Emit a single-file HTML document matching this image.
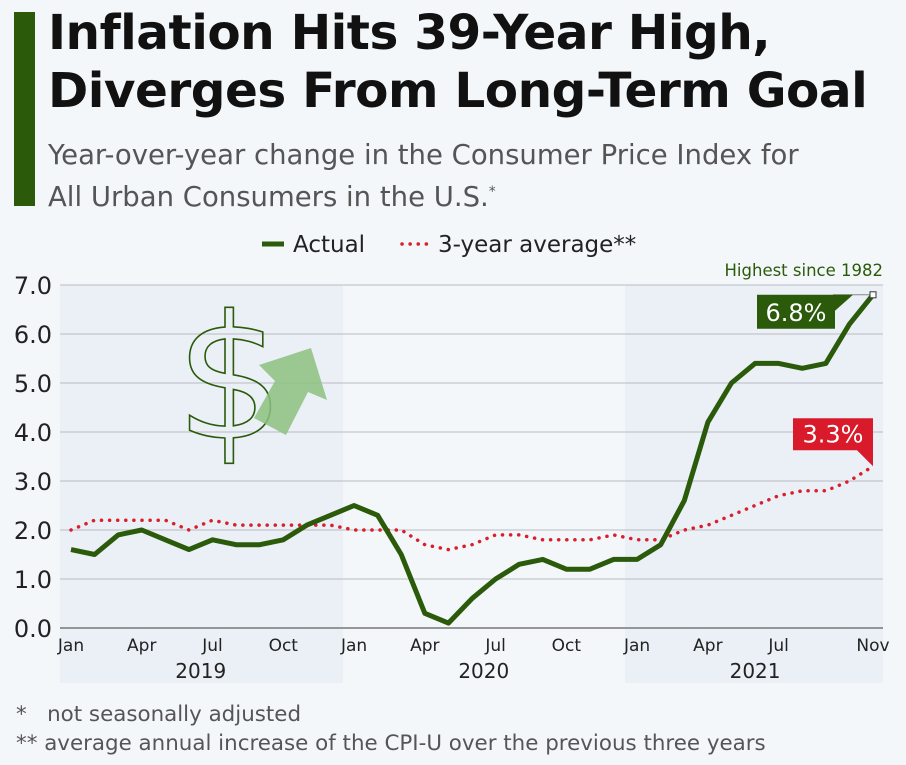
<!DOCTYPE html>
<html><head><meta charset="utf-8"><style>
body{margin:0;background:#f4f7fa;font-family:"Liberation Sans","DejaVu Sans",sans-serif}
#wrap{position:relative;width:906px;height:765px;overflow:hidden;background:#f4f7fa}
.t{position:absolute;white-space:nowrap}
</style></head><body>
<div id="wrap">
<div class="t" style="left:14px;top:12px;width:21px;height:194px;background:#2a5a0a"></div>
<div class="t" style="left:48px;top:4px;font-size:48.5px;font-weight:bold;line-height:58px;color:#111;font-family:'DejaVu Sans',sans-serif;letter-spacing:-0.5px">Inflation Hits 39-Year High,<br>Diverges From Long-Term Goal</div>
<div class="t" style="left:48px;top:137px;font-size:27.5px;line-height:37px;color:#555;font-family:'DejaVu Sans',sans-serif">Year-over-year change in the Consumer Price Index for<br>All Urban Consumers in the U.S.<sup style="font-size:14px">*</sup></div>
<svg id="chart" width="906" height="765" style="position:absolute;left:0;top:0"></svg>
<div class="t" style="left:16px;top:702px;font-size:21.4px;color:#555;font-family:'DejaVu Sans',sans-serif">*&nbsp;&nbsp; not seasonally adjusted</div>
<div class="t" style="left:16px;top:731px;font-size:21.4px;color:#555;font-family:'DejaVu Sans',sans-serif">** average annual increase of the CPI-U over the previous three years</div>
</div>
<script>
const actual=[1.6,1.5,1.9,2.0,1.8,1.6,1.8,1.7,1.7,1.8,2.1,2.3,2.5,2.3,1.5,0.3,0.1,0.6,1.0,1.3,1.4,1.2,1.2,1.4,1.4,1.7,2.6,4.2,5.0,5.4,5.4,5.3,5.4,6.2,6.8];
const avg3=[2.0,2.2,2.2,2.2,2.2,2.0,2.2,2.1,2.1,2.1,2.1,2.1,2.0,2.0,2.0,1.7,1.6,1.7,1.9,1.9,1.8,1.8,1.8,1.9,1.8,1.8,2.0,2.1,2.3,2.5,2.7,2.8,2.8,3.0,3.3];
const yTicks=[0,1,2,3,4,5,6,7];
const monthLabels=[[0,"Jan"],[3,"Apr"],[6,"Jul"],[9,"Oct"],[12,"Jan"],[15,"Apr"],[18,"Jul"],[21,"Oct"],[24,"Jan"],[27,"Apr"],[30,"Jul"],[34,"Nov"]];
const years=[[2019,0,11],[2020,12,23],[2021,24,34]];
const NS="http://www.w3.org/2000/svg",svg=document.getElementById('chart');
const X=i=>71+i*(873-71)/34, Y=v=>628-v*49;
function mk(t,a,p){const e=document.createElementNS(NS,t);for(const k in a)e.setAttribute(k,a[k]);(p||svg).appendChild(e);return e;}
let e;
e=mk('rect',{x:60,y:285,width:283,height:398,fill:'#ebf0f7'});

e=mk('rect',{x:625,y:285,width:258,height:398,fill:'#ebf0f7'});

yTicks.forEach(v=>{
 e=mk('line',{x1:60,x2:883,y1:Y(v),y2:Y(v),stroke:v===0?'#777':'#c4c7cc','stroke-width':v===0?1.5:1.2});
 
 e=mk('text',{x:52,y:Y(v)+9,'text-anchor':'end','font-size':24,fill:'#222','font-family':'DejaVu Sans,sans-serif'});e.textContent=v.toFixed(1);
 
});
monthLabels.forEach(([i,l])=>{
 e=mk('text',{x:X(i),y:651,'text-anchor':'middle','font-size':17,fill:'#222','font-family':'DejaVu Sans,sans-serif'});e.textContent=l;
 
});
years.forEach(([y,a,b])=>{
 e=mk('text',{x:(X(a)+X(b))/2,y:678,'text-anchor':'middle','font-size':20,fill:'#222','font-family':'DejaVu Sans,sans-serif'});e.textContent=y;
 
});
e=mk('text',{x:230,y:438,'text-anchor':'middle','font-size':172,fill:'none',stroke:'#2a5a0a','stroke-width':1.6,'font-family':'DejaVu Sans,sans-serif'});e.textContent='$';

e=mk('polygon',{points:'254,418 275,381 259,365 311,348 327,400 308,392 286,435',fill:'#8dc07f','fill-opacity':0.85});

e=mk('path',{d:avg3.map((v,i)=>(i?'L':'M')+X(i)+','+Y(v)).join(''),fill:'none',stroke:'#d9202a','stroke-width':3.5,'stroke-dasharray':'0.1 8','stroke-linecap':'round'});

e=mk('path',{d:actual.map((v,i)=>(i?'L':'M')+X(i)+','+Y(v)).join(''),fill:'none',stroke:'#2a5a0a','stroke-width':5,'stroke-linejoin':'round'});

const last=actual.length-1;
e=mk('line',{x1:X(last)-40,x2:X(last),y1:Y(actual[last]),y2:Y(actual[last]),stroke:'#888','stroke-width':1});
e=mk('rect',{x:X(last)-3,y:Y(actual[last])-3,width:6,height:6,fill:'#fff',stroke:'#333','stroke-width':1});

e=mk('path',{d:`M${X(last)-116},${Y(actual[last])}h96l-18,16v18h-78z`,fill:'#2a5a0a'});

e=mk('text',{x:X(last)-77,y:Y(actual[last])+26,'text-anchor':'middle','font-size':24,fill:'#fff','font-family':'DejaVu Sans,sans-serif'});e.textContent=actual[last].toFixed(1)+'%';

e=mk('text',{x:883,y:276,'text-anchor':'end','font-size':16.5,fill:'#2a5a0a','font-family':'DejaVu Sans,sans-serif'});e.textContent='Highest since 1982';

const ay=Y(avg3[last]);
e=mk('path',{d:`M${X(last)-80},${ay-48}h80v48l-16,-16h-64z`,fill:'#d91a2a'});

e=mk('text',{x:X(last)-40,y:ay-24,'text-anchor':'middle','font-size':24,fill:'#fff','font-family':'DejaVu Sans,sans-serif'});e.textContent=avg3[last].toFixed(1)+'%';

e=mk('line',{x1:262,x2:284,y1:244,y2:244,stroke:'#2a5a0a','stroke-width':5});

e=mk('text',{x:293,y:252,'font-size':23,fill:'#222','font-family':'DejaVu Sans,sans-serif'});e.textContent='Actual';

e=mk('line',{x1:402,x2:428,y1:244,y2:244,stroke:'#d9202a','stroke-width':3.5,'stroke-dasharray':'0.1 8','stroke-linecap':'round'});

e=mk('text',{x:438,y:252,'font-size':23,fill:'#222','font-family':'DejaVu Sans,sans-serif'});e.textContent='3-year average**';

</script>
</body></html>
